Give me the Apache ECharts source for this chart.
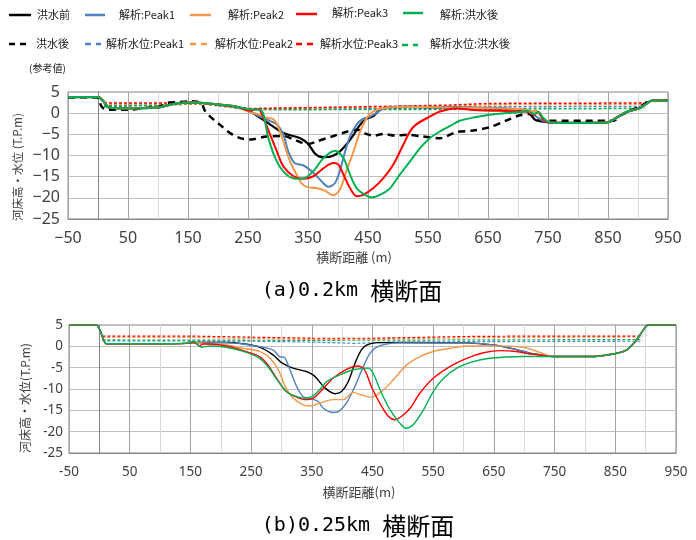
<!DOCTYPE html>
<html><head><meta charset="utf-8">
<script src="https://cdn.jsdelivr.net/npm/echarts@6/dist/echarts.min.js"></script>
<style>html,body{margin:0;padding:0;background:#fff}#c{width:696px;height:540px}</style>
</head><body><div id="c"></div>
<script>
// ---------- DATA: (a) 0.2km cross-section ----------
const xTicks = [-50, 50, 150, 250, 350, 450, 550, 650, 750, 850, 950];
const yTicks = [5, 0, -5, -10, -15, -20, -25];

const topLeftBank = [[-50,3.8],[0,3.8],[9,2.8],[17,1.4],[25,1.2],[48,1.1],[76,1.2],[103,1.4],[120,2.0],[137,2.4],[159,2.5],[176,2.4],[203,2.0],[231,1.5]];
const topRightBank = [[753,-2.2],[792,-2.3],[848,-2.2],[864,-1.1],[881,0.3],[903,1.2],[920,2.8],[928,3.0],[950,3.0]];

const topBefore = [[253,0.5],[270,-1.1],[287,-2.7],[309,-4.7],[337,-5.9],[350,-7.2],[362,-9.6],[373,-10.4],[387,-10.3],[400,-9.4],[414,-7.4],[426,-5.1],[437,-2.7],[448,-1.3],[459,-0.7],[470,0.8],[487,1.4],[520,1.5],[600,1.3],[680,1.0],[714,0.5],[728,-1.5],[737,-1.9]];
const topPeak1 = [[253,0.3],[270,-0.8],[281,-1.5],[298,-2.7],[309,-5.1],[317,-9.0],[328,-11.8],[342,-12.3],[356,-13.7],[370,-15.7],[384,-17.4],[395,-16.5],[403,-13.7],[412,-9.0],[420,-5.5],[431,-2.7],[442,-1.3],[453,-0.8],[464,0.0],[476,1.1],[500,1.5],[600,1.4],[680,1.1],[720,0.6],[730,-0.8],[742,-1.8]];
const topPeak2 = [[253,0.3],[270,-0.4],[281,-1.1],[292,-1.4],[300,-3.1],[309,-6.7],[320,-11.4],[331,-14.5],[339,-16.5],[348,-17.4],[364,-17.7],[378,-18.3],[392,-19.4],[403,-18.1],[414,-13.7],[426,-9.0],[437,-4.3],[448,-1.1],[459,0.4],[476,1.2],[520,1.5],[600,1.3],[700,1.0],[725,0.5],[731,0.6],[738,-0.8],[747,-1.9]];
const topPeak3 = [[253,0.6],[264,1.0],[270,0.7],[278,-1.9],[287,-5.1],[298,-9.0],[309,-12.6],[326,-14.9],[342,-15.5],[359,-14.9],[376,-13.0],[392,-11.8],[401,-12.2],[409,-14.5],[420,-17.7],[431,-19.6],[442,-19.3],[459,-17.7],[476,-15.3],[492,-12.2],[509,-7.4],[520,-4.3],[531,-2.6],[553,-0.8],[570,0.4],[598,1.1],[626,0.75],[681,0.5],[714,0.4],[726,-0.4],[734,0.3],[742,-1.5]];
const topAfterCalc = [[253,0.9],[270,0.8],[276,-0.4],[284,-5.9],[298,-11.4],[314,-14.5],[331,-15.5],[345,-15.3],[359,-13.7],[376,-10.6],[395,-8.9],[409,-10.6],[420,-14.5],[431,-17.7],[445,-19.3],[456,-19.9],[470,-19.3],[487,-17.7],[503,-14.5],[520,-11.4],[537,-8.2],[553,-5.9],[570,-4.3],[587,-3.0],[603,-1.8],[626,-1.0],[653,-0.35],[681,0.04],[703,0.27],[717,0.43],[726,-0.2],[734,0.27],[742,-1.1]];
const topAfterSurvey = [[-50,3.75],[-2,3.75],[2,3.2],[5,1.8],[10,1.0],[20,0.8],[48,0.8],[76,1.2],[103,1.6],[115,2.4],[131,2.6],[153,2.8],[165,2.7],[173,2.2],[178,0.6],[187,-0.8],[203,-2.7],[220,-4.7],[237,-5.9],[255,-6.2],[281,-5.5],[309,-5.4],[331,-6.5],[350,-7.3],[366,-6.6],[390,-5.5],[412,-4.5],[428,-3.9],[437,-4.0],[447,-4.9],[460,-5.3],[475,-4.9],[495,-5.3],[514,-5.1],[540,-5.5],[570,-5.9],[597,-4.5],[625,-4.1],[653,-3.3],[681,-1.7],[703,-0.5],[720,-0.2],[731,-1.3],[748,-1.8],[859,-1.8],[870,-0.6],[887,0.6],[903,1.5],[917,2.8],[925,3.0],[950,3.0]];
const topWLPeak1 = [[10,1.8],[120,2.0],[175,2.2],[253,0.9],[400,1.0],[587,1.2],[650,1.5],[910,1.6]];
const topWLPeak2 = [[10,2.1],[120,2.2],[175,2.2],[253,1.0],[400,1.3],[587,1.6],[650,2.0],[910,2.1]];
const topWLPeak3 = [[10,2.4],[120,2.4],[175,2.3],[253,1.1],[350,1.3],[476,1.6],[587,1.9],[650,2.3],[910,2.4]];
const topWLAfter = [[10,1.5],[120,2.0],[175,2.2],[253,0.8],[587,0.9],[650,1.0],[910,1.1]];

// ---------- DATA: (b) 0.25km cross-section ----------
const botLeftBank = [[-50,5],[-5,5],[1,3.8],[6,1.9],[12,0.6],[60,0.6],[100,0.6],[143,0.7]];
const botRightBank = [[748,-2.4],[808,-2.4],[847,-1.8],[869,-0.85],[885,1.5],[896,3.8],[904,5],[950,5]];

const botBefore = [[154,0.9],[209,0.9],[237,0.6],[264,-0.2],[286,-2.0],[300,-3.8],[319,-5.1],[341,-5.9],[352,-6.7],[358,-7.5],[372,-9.8],[388,-11.1],[399,-10.6],[410,-8.3],[421,-4.0],[432,-0.8],[440,0.3],[457,0.87],[495,0.9],[605,0.8],[649,0.3],[682,-0.6],[709,-1.6],[726,-2.0]];
const botPeak1 = [[154,0.9],[209,0.87],[237,0.56],[264,-0.07],[286,-0.85],[297,-2.4],[305,-2.6],[314,-5.5],[325,-9.4],[336,-11.8],[350,-12.3],[361,-13.0],[369,-14.5],[385,-15.5],[394,-15.3],[407,-13.3],[421,-9.4],[435,-4.7],[446,-1.6],[457,-0.2],[473,0.56],[495,0.8],[605,0.8],[649,0.3],[682,-0.6],[709,-1.6],[726,-2.0]];
const botPeak2 = [[154,0.9],[182,0.56],[209,0.3],[237,-0.5],[264,-1.2],[281,-2.8],[295,-5.5],[306,-9.4],[319,-12.1],[336,-13.7],[347,-14.0],[363,-13.3],[385,-12.5],[402,-12.5],[418,-10.8],[432,-11.4],[448,-11.9],[465,-10.6],[484,-7.9],[506,-4.4],[528,-2.4],[550,-1.2],[578,-0.46],[605,0.09],[643,0.1],[698,-0.2],[737,-2.0]];
const botPeak3 = [[154,0.87],[160,0.6],[165,0.09],[171,0.56],[182,0.56],[209,0.09],[237,-1.0],[264,-2.4],[278,-4.4],[292,-7.5],[308,-10.6],[325,-11.9],[341,-12.5],[352,-12.2],[363,-10.8],[385,-7.5],[407,-5.4],[426,-4.6],[437,-5.5],[448,-9.4],[462,-13.3],[476,-16.4],[487,-17.2],[498,-16.4],[512,-14.5],[528,-11.0],[550,-7.5],[578,-4.7],[605,-2.8],[633,-1.5],[660,-1.0],[687,-1.2],[709,-1.8],[726,-2.0]];
const botAfterCalc = [[154,1.1],[160,0.7],[168,-0.2],[182,0.09],[209,-0.2],[237,-1.2],[264,-2.8],[278,-4.8],[292,-7.7],[308,-10.6],[325,-11.8],[341,-12.2],[352,-11.6],[363,-10.2],[374,-8.3],[396,-6.7],[418,-5.5],[443,-5.1],[451,-6.3],[465,-11.0],[479,-14.9],[495,-18.0],[505,-19.2],[517,-18.4],[534,-14.9],[550,-10.6],[567,-7.5],[589,-5.1],[616,-3.6],[643,-2.8],[698,-2.4]];
const botWLPeak1 = [[5,1.3],[250,1.2],[350,1.0],[420,0.7],[470,0.9],[600,1.1],[895,1.2]];
const botWLPeak2 = [[5,2.1],[150,2.1],[350,1.6],[450,1.7],[600,2.0],[895,2.2]];
const botWLPeak3 = [[5,2.4],[150,2.4],[350,1.9],[450,1.9],[600,2.3],[700,2.4],[895,2.4]];
const botWLAfter = [[5,1.5],[350,1.4],[600,1.5],[895,1.6]];

// ---------- labels ----------
const legendSolid = ['洪水前','解析:Peak1','解析:Peak2','解析:Peak3','解析:洪水後'];
const legendDashed = ['洪水後','解析水位:Peak1','解析水位:Peak2','解析水位:Peak3','解析水位:洪水後'];
const COL = {black:'#000000', blue:'#4F81BD', orange:'#F79646', red:'#FF0000', green:'#00B050'};

const chart = echarts.init(document.getElementById('c'), null, {renderer:'canvas'});
const NUM = '"Noto Sans", "Liberation Sans", sans-serif';
const JP = '"Noto Sans CJK JP", sans-serif';

function fmtY(minus){ return v => (v < 0 ? minus + Math.abs(v) : String(v)); }
function fmtX(minus){ return v => (((v + 50) % 100 === 0) ? (v < 0 ? minus + Math.abs(v) : String(v)) : ''); }

function xAxis(gi, fs, margin, minus){
  return {type:'value', gridIndex:gi, min:-50, max:950, interval:50,
    axisLine:{show:true, onZero:false, lineStyle:{color:'#868686', width:1}},
    axisTick:{show:false},
    axisLabel:{formatter:fmtX(minus), fontSize:fs, color:'#404040', margin:margin, fontFamily:NUM, showMinLabel:true, showMaxLabel:true},
    splitLine:{show:true, lineStyle:{color:['#a6a6a6','#d9d9d9'], width:1}}};
}
function yAxis(gi, fs, margin, minus){
  return {type:'value', gridIndex:gi, min:-25, max:5, interval:5,
    axisLine:{show:true, lineStyle:{color:'#868686'}},
    axisTick:{show:false},
    axisLabel:{formatter:fmtY(minus), fontSize:fs, color:'#404040', margin:margin, fontFamily:NUM},
    splitLine:{show:true, lineStyle:{color:'#bfbfbf', width:1}}};
}
function ln(gi, data, color, width, dash, smooth, z){
  return {type:'line', xAxisIndex:gi, yAxisIndex:gi, data:data, showSymbol:false, symbol:'none',
    smooth:smooth, z:z||2, animation:false,
    lineStyle:{color:color, width:width, type:dash||'solid'}};
}

const series = [
  // top
  ln(0, topWLPeak1, COL.blue, 1.5, [3,2], false, 2),
  ln(0, topWLAfter, COL.green, 1.5, [3,2], false, 2),
  ln(0, topWLPeak2, COL.orange, 1.5, [3,2], false, 2),
  ln(0, topWLPeak3, COL.red, 1.5, [3,2], false, 2),
  ln(0, [...topLeftBank, ...topBefore, ...topRightBank], COL.black, 2.2, 'solid', 0.3, 3),
  ln(0, topAfterSurvey, COL.black, 2.5, [7,5], 0.3, 3),
  ln(0, [...topLeftBank, ...topPeak1, ...topRightBank], COL.blue, 2, 'solid', 0.3, 4),
  ln(0, [...topLeftBank, ...topPeak2, ...topRightBank], COL.orange, 2, 'solid', 0.3, 4),
  ln(0, [...topLeftBank, ...topPeak3, ...topRightBank], COL.red, 2, 'solid', 0.3, 4),
  ln(0, [...topLeftBank, ...topAfterCalc, ...topRightBank], COL.green, 2, 'solid', 0.3, 4),
  // bottom
  ln(1, botWLPeak1, COL.blue, 1.2, [3,2], false, 2),
  ln(1, botWLAfter, COL.green, 1.2, [3,2], false, 2),
  ln(1, botWLPeak2, COL.orange, 1.2, [3,2], false, 2),
  ln(1, botWLPeak3, COL.red, 1.2, [3,2], false, 2),
  ln(1, [...botLeftBank, ...botBefore, ...botRightBank], COL.black, 1.4, 'solid', 0.3, 3),
  ln(1, [...botLeftBank, ...botPeak1, ...botRightBank], COL.blue, 1.4, 'solid', 0.3, 4),
  ln(1, [...botLeftBank, ...botPeak2, ...botRightBank], COL.orange, 1.4, 'solid', 0.3, 4),
  ln(1, [...botLeftBank, ...botPeak3, ...botRightBank], COL.red, 1.4, 'solid', 0.3, 4),
  ln(1, [...botLeftBank, ...botAfterCalc, ...botRightBank], COL.green, 1.4, 'solid', 0.3, 4)
];

// legend graphics
const legCols = [COL.black, COL.blue, COL.orange, COL.red, COL.green];
const row1 = [{x1:9,x2:31,y:15,tx:37,ty:15},{x1:85,x2:105,y:15,tx:119,ty:15},{x1:190,x2:211,y:15,tx:228,ty:15},{x1:296,x2:317,y:14,tx:332,ty:13},{x1:403,x2:423,y:13,tx:440,ty:15}];
const row2 = [{x1:9,x2:27,y:44,tx:36,ty:44},{x1:85,x2:101,y:44,tx:106,ty:44},{x1:190,x2:207,y:44,tx:215,ty:44},{x1:296,x2:313,y:44,tx:320,ty:44},{x1:402,x2:418,y:45,tx:430,ty:44}];
const graphics = [];
row1.forEach((r,i)=>{
  graphics.push({type:'line', shape:{x1:r.x1,y1:r.y,x2:r.x2,y2:r.y}, style:{stroke:legCols[i], lineWidth:2.5}});
  graphics.push({type:'text', x:r.tx, y:r.ty, style:{text:legendSolid[i], font:'11px '+JP, fill:'#1a1a1a', verticalAlign:'middle'}});
});
row2.forEach((r,i)=>{
  graphics.push({type:'line', shape:{x1:r.x1,y1:r.y,x2:r.x2,y2:r.y}, style:{stroke:legCols[i], lineWidth:2.5, lineDash:[6,5]}});
  graphics.push({type:'text', x:r.tx, y:r.ty, style:{text:legendDashed[i], font:'11px '+JP, fill:'#1a1a1a', verticalAlign:'middle'}});
});
graphics.push({type:'text', x:29, y:68, style:{text:'(参考値)', font:'10px '+JP, fill:'#1a1a1a', verticalAlign:'middle'}});
// axis names
graphics.push({type:'text', x:354, y:257, style:{text:'横断距離 (m)', font:'13px '+JP, fill:'#404040', align:'center', verticalAlign:'middle'}});
graphics.push({type:'text', x:359, y:492, style:{text:'横断距離(m)', font:'13px '+JP, fill:'#404040', align:'center', verticalAlign:'middle'}});
graphics.push({type:'text', x:18, y:167, rotation:Math.PI/2, style:{text:'河床高・水位 (T.P.m)', font:'11.5px '+JP, fill:'#404040', align:'center', verticalAlign:'middle'}});
graphics.push({type:'text', x:25, y:398, rotation:Math.PI/2, style:{text:'河床高・水位(T.P.m)', font:'12px '+JP, fill:'#404040', align:'center', verticalAlign:'middle'}});
// titles
graphics.push({type:'text', x:352, y:291, style:{text:'{a|(a)0.2km }{b|横断面}', align:'center', verticalAlign:'middle',
  rich:{a:{fontFamily:'"DejaVu Sans Mono", monospace', fontSize:20, fill:'#000'}, b:{fontFamily:JP, fontSize:24, fill:'#000'}}}});
graphics.push({type:'text', x:358, y:526, style:{text:'{a|(b)0.25km }{b|横断面}', align:'center', verticalAlign:'middle',
  rich:{a:{fontFamily:'"DejaVu Sans Mono", monospace', fontSize:20, fill:'#000'}, b:{fontFamily:JP, fontSize:24, fill:'#000'}}}});

chart.setOption({
  animation:false,
  backgroundColor:'#ffffff',
  grid:[
    {left:68, top:92, width:600, height:127, show:true, borderColor:'#868686', borderWidth:1, containLabel:false},
    {left:69, top:325, width:607, height:128, show:true, borderColor:'#868686', borderWidth:1, containLabel:false}
  ],
  xAxis:[xAxis(0, 16, 11, '\u2212'), xAxis(1, 13.5, 12, '-')],
  yAxis:[yAxis(0, 16, 8, '\u2212'), yAxis(1, 13.5, 6, '-')],
  series:series,
  graphic:graphics
});
</script></body></html>
